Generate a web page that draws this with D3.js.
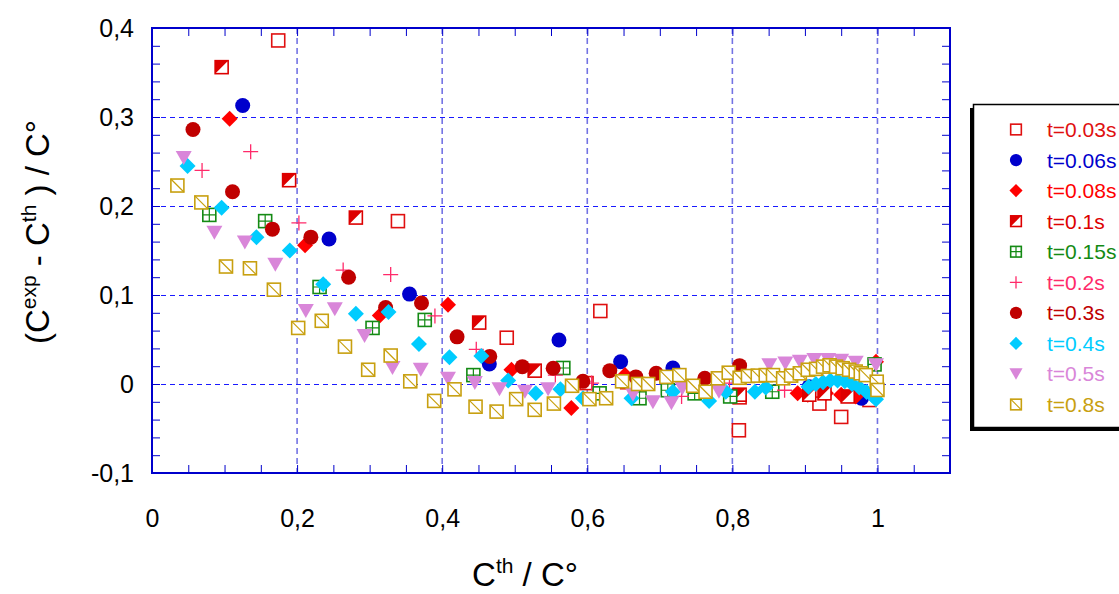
<!DOCTYPE html>
<html>
<head>
<meta charset="utf-8">
<script src="https://cdn.jsdelivr.net/npm/d3@7"></script>
<style>
  body { margin: 0; background: #fff; }
  text { font-family: "Liberation Sans", Arial, sans-serif; }
</style>
</head>
<body>
<script>
// Data: each point is [C_th / C0, (C_exp - C_th) / C0]
var t003 = [[0.174,0.386],[0.339,0.183],[0.618,0.082],[0.489,0.052],[0.599,0.001],[0.81,-0.015],
    [0.809,-0.052],[0.92,-0.022],[0.95,-0.037],[0.989,-0.018]];
var t006 = [[0.125,0.313],[0.244,0.163],[0.355,0.101],[0.465,0.0225],[0.561,0.0495],[0.646,0.025],
    [0.718,0.018],[0.906,-0.003],[0.978,-0.016]];
var t008 = [[0.107,0.298],[0.211,0.156],[0.314,0.077],[0.408,0.089],[0.4955,0.016],[0.578,-0.027],
    [0.652,0.010],[0.89,-0.0105],[0.904,-0.012],[0.929,-0.0105],[0.95,-0.012],[0.97,-0.014],[0.998,0.025]];
var t01 = [[0.096,0.356],[0.189,0.229],[0.281,0.187],[0.451,0.069],[0.5275,0.015],[0.655,0.002],
    [0.81,-0.012],[0.906,-0.012],[0.927,-0.0105],[0.959,-0.014]];
var t015 = [[0.079,0.19],[0.156,0.183],[0.231,0.109],[0.304,0.063],[0.376,0.072],[0.443,0.010],
    [0.567,0.018],[0.617,-0.0105],[0.672,-0.016],[0.711,-0.007],[0.748,-0.0105],[0.797,-0.014],
    [0.855,-0.0087],[0.996,0.022]];
var t02 = [[0.069,0.240],[0.136,0.261],[0.2025,0.181],[0.2635,0.128],[0.329,0.123],[0.39,0.0765],
    [0.447,0.039],[0.556,0.010],[0.606,0.001],[0.73,-0.014],[0.796,0.001],[0.872,-0.007]];
var t03 = [[0.0565,0.286],[0.111,0.216],[0.166,0.174],[0.219,0.165],[0.271,0.120],[0.322,0.086],
    [0.3715,0.091],[0.4205,0.053],[0.4656,0.031],[0.5105,0.0195],[0.553,0.0177],[0.594,0.003],
    [0.631,0.015],[0.667,0.008],[0.695,0.012],[0.762,0.0064],[0.81,0.0206]];
var t04 = [[0.049,0.245],[0.096,0.198],[0.144,0.165],[0.19,0.15],[0.236,0.112],[0.281,0.079],
    [0.326,0.081],[0.368,0.045],[0.41,0.030],[0.454,0.0315],[0.491,0.004],[0.529,-0.0105],
    [0.563,-0.006],[0.594,-0.016],[0.661,-0.016],[0.718,-0.0087],[0.768,-0.019],[0.791,-0.0087],
    [0.831,-0.0087],[0.846,-0.004],[0.905,-0.003],[0.915,0.0],[0.925,0.002],[0.935,0.004],
    [0.945,0.004],[0.955,0.003],[0.965,0.0],[0.975,-0.004],[0.985,-0.009],[0.993,-0.013],[0.998,-0.017]];
var t05 = [[0.0437,0.254],[0.086,0.170],[0.128,0.159],[0.170,0.134],[0.212,0.082],[0.252,0.084],
    [0.293,0.054],[0.3315,0.018],[0.3705,0.016],[0.408,0.006],[0.445,0.001],[0.479,-0.006],
    [0.514,-0.0087],[0.546,-0.006],[0.663,-0.012],[0.6905,-0.0206],[0.716,-0.0217],[0.731,-0.005],
    [0.7815,-0.0087],[0.851,0.021],[0.873,0.023],[0.893,0.025],[0.913,0.027],[0.932,0.027],
    [0.95,0.026],[0.97,0.024],[0.998,0.021]];
var t08 = [[0.035,0.223],[0.068,0.204],[0.102,0.132],[0.135,0.130],[0.168,0.106],[0.2015,0.063],
    [0.234,0.071],[0.266,0.042],[0.298,0.016],[0.329,0.032],[0.356,0.003],[0.389,-0.019],
    [0.417,-0.006],[0.446,-0.0255],[0.475,-0.031],[0.502,-0.017],[0.5275,-0.029],[0.554,-0.022],
    [0.579,-0.002],[0.603,-0.017],[0.626,-0.016],[0.648,0.003],[0.67,0.0],[0.684,0.0],[0.709,0.008],
    [0.727,0.010],[0.746,-0.002],[0.763,-0.0087],[0.78,0.0064],[0.795,0.0127],[0.81,0.007],
    [0.8215,0.009],[0.835,0.0094],[0.846,0.010],[0.856,0.010],[0.87,0.0064],[0.881,0.0094],
    [0.893,0.012],[0.904,0.016],[0.9155,0.017],[0.925,0.0195],[0.934,0.021],[0.943,0.0195],
    [0.952,0.0177],[0.961,0.016],[0.97,0.014],[0.977,0.012],[0.984,0.010],[0.999,0.0026],[1.0,-0.0067]];

var seriesData = [t003, t006, t008, t01, t015, t02, t03, t04, t05, t08];
var seriesNames = ["t=0.03s", "t=0.06s", "t=0.08s", "t=0.1s", "t=0.15s",
    "t=0.2s", "t=0.3s", "t=0.4s", "t=0.5s", "t=0.8s"];
var seriesColors = ["#e01010", "#0000cc", "#ff0000", "#dd0000", "#148a14",
    "#ff2a6a", "#c00000", "#00ccff", "#d986d9", "#c8a010"];
var seriesSymbols = ["openSquare", "circle", "diamond", "halfSquare", "gridSquare",
    "plus", "circle", "diamond", "triangle", "diagSquare"];

var xTicks = [0, 0.2, 0.4, 0.6, 0.8, 1];
var yTicks = [-0.1, 0, 0.1, 0.2, 0.3, 0.4];

var W = 1119, H = 594;
var frame = {left: 152, right: 950, top: 28, bottom: 473};
var axisColor = "#0000cc";

var svg = d3.select("body").append("svg")
    .attr("width", W)
    .attr("height", H);

var x = d3.scaleLinear().domain([0, 1.1]).range([frame.left, frame.right]);
var y = d3.scaleLinear().domain([-0.1, 0.4]).range([frame.bottom, frame.top]);

var fmt = function(d) { return String(+d.toFixed(2)).replace(".", ","); };

// Grid lines
svg.append("g")
    .selectAll("line")
    .data(yTicks.filter(function(d) { return d > -0.1 && d < 0.4; }))
    .enter().append("line")
    .attr("x1", frame.left).attr("x2", frame.right)
    .attr("y1", function(d) { return Math.round(y(d)) + 0.5; })
    .attr("y2", function(d) { return Math.round(y(d)) + 0.5; })
    .attr("stroke", "#1a1aff")
    .attr("stroke-width", 1.2)
    .attr("stroke-dasharray", "5,4");

svg.append("g")
    .selectAll("line")
    .data(xTicks.filter(function(d) { return d > 0; }))
    .enter().append("line")
    .attr("y1", frame.top).attr("y2", frame.bottom)
    .attr("x1", function(d) { return x(d); })
    .attr("x2", function(d) { return x(d); })
    .attr("stroke", axisColor)
    .attr("stroke-opacity", 0.55)
    .attr("stroke-width", 1.6)
    .attr("stroke-dasharray", "6,4");

// Minor ticks pointing inward on all four sides
var xMinor = d3.range(0, 1.1001, 0.05);
var yMinor = d3.range(-0.1, 0.4001, 0.02);

svg.append("g")
    .attr("transform", "translate(0," + frame.bottom + ")")
    .call(d3.axisBottom(x).tickValues(xMinor).tickSize(-8).tickFormat(""))
    .call(function(g) { g.select(".domain").remove(); g.selectAll("line").attr("stroke", axisColor); });

svg.append("g")
    .attr("transform", "translate(0," + frame.top + ")")
    .call(d3.axisTop(x).tickValues(xMinor).tickSize(-8).tickFormat(""))
    .call(function(g) { g.select(".domain").remove(); g.selectAll("line").attr("stroke", axisColor); });

svg.append("g")
    .attr("transform", "translate(" + frame.left + ",0)")
    .call(d3.axisLeft(y).tickValues(yMinor).tickSize(-8).tickFormat(""))
    .call(function(g) { g.select(".domain").remove(); g.selectAll("line").attr("stroke", axisColor); });

svg.append("g")
    .attr("transform", "translate(" + frame.right + ",0)")
    .call(d3.axisRight(y).tickValues(yMinor).tickSize(-8).tickFormat(""))
    .call(function(g) { g.select(".domain").remove(); g.selectAll("line").attr("stroke", axisColor); });

// Tick labels
svg.append("g")
    .attr("transform", "translate(0," + frame.bottom + ")")
    .call(d3.axisBottom(x).tickValues(xTicks).tickSize(0).tickPadding(36).tickFormat(fmt))
    .call(function(g) {
        g.select(".domain").remove();
        g.selectAll("text").attr("fill", "#000").style("font-size", "25px")
            .style("font-family", "'Liberation Sans', Arial, sans-serif");
    });

svg.append("g")
    .attr("transform", "translate(" + frame.left + ",0)")
    .call(d3.axisLeft(y).tickValues(yTicks).tickSize(0).tickPadding(18).tickFormat(fmt))
    .call(function(g) {
        g.select(".domain").remove();
        g.selectAll("text").attr("fill", "#000").style("font-size", "25px")
            .style("font-family", "'Liberation Sans', Arial, sans-serif");
    });

// Axis titles
var xTitle = svg.append("text")
    .attr("x", 525).attr("y", 586)
    .attr("text-anchor", "middle")
    .style("font-size", "33px");
xTitle.append("tspan").text("C");
xTitle.append("tspan").attr("dy", -13).style("font-size", "21px").text("th");
xTitle.append("tspan").attr("dy", 13).text(" / C°");

var yTitle = svg.append("text")
    .attr("transform", "translate(49,232) rotate(-90)")
    .attr("text-anchor", "middle")
    .style("font-size", "33px");
yTitle.append("tspan").text("(C");
yTitle.append("tspan").attr("dy", -13).style("font-size", "21px").text("exp");
yTitle.append("tspan").attr("dy", 13).text(" - C");
yTitle.append("tspan").attr("dy", -13).style("font-size", "21px").text("th");
yTitle.append("tspan").attr("dy", 13).text(" ) / C°");

// Marker drawing
function drawMarker(g, type, color, k) {
    var h = 6.5 * k, r = 7.5 * k, dr = 8 * k;
    if (type == "circle") {
        g.append("circle").attr("r", r).attr("fill", color);
    } else if (type == "diamond") {
        g.append("path")
            .attr("d", "M0," + (-dr) + "L" + dr + ",0L0," + dr + "L" + (-dr) + ",0Z")
            .attr("fill", color);
    } else if (type == "triangle") {
        var tw = 8 * k, th = 7 * k;
        g.append("path")
            .attr("d", "M" + (-tw) + "," + (-th) + "L" + tw + "," + (-th) + "L0," + th + "Z")
            .attr("fill", color);
    } else if (type == "plus") {
        g.append("path")
            .attr("d", "M" + (-r) + ",0H" + r + "M0," + (-r) + "V" + r)
            .attr("stroke", color).attr("stroke-width", 1.3).attr("fill", "none");
    } else {
        g.append("rect")
            .attr("x", -h).attr("y", -h)
            .attr("width", 2 * h).attr("height", 2 * h)
            .attr("fill", "#fff")
            .attr("stroke", color)
            .attr("stroke-width", 1.6);
        if (type == "halfSquare") {
            g.append("path")
                .attr("d", "M" + (-h) + "," + (-h) + "L" + h + "," + (-h) + "L" + (-h) + "," + h + "Z")
                .attr("fill", color);
        } else if (type == "gridSquare") {
            g.append("path")
                .attr("d", "M" + (-h) + ",0H" + h + "M0," + (-h) + "V" + h)
                .attr("stroke", color).attr("stroke-width", 1.2);
        } else if (type == "diagSquare") {
            g.append("path")
                .attr("d", "M" + (-h) + "," + (-h) + "L" + h + "," + h)
                .attr("stroke", color).attr("stroke-width", 1.2);
        }
    }
}

// Points
seriesData.forEach(function(data, i) {
    var pts = svg.append("g").attr("class", "series-" + i)
        .selectAll("g")
        .data(data)
        .enter().append("g")
        .attr("transform", function(d) { return "translate(" + x(d[0]) + "," + y(d[1]) + ")"; });
    pts.each(function() { drawMarker(d3.select(this), seriesSymbols[i], seriesColors[i], 1); });
});

// Frame
svg.append("rect")
    .attr("x", frame.left).attr("y", frame.top)
    .attr("width", frame.right - frame.left)
    .attr("height", frame.bottom - frame.top)
    .attr("fill", "none")
    .attr("stroke", axisColor)
    .attr("stroke-width", 2);

// Legend
var legend = svg.append("g");
legend.append("rect")
    .attr("x", 970).attr("y", 108)
    .attr("width", 200).attr("height", 323)
    .attr("fill", "#000");
legend.append("rect")
    .attr("x", 973.5).attr("y", 104.5)
    .attr("width", 200).attr("height", 323)
    .attr("fill", "#fff")
    .attr("stroke", "#000")
    .attr("stroke-width", 1.5);

var legendRow = d3.scaleLinear().domain([0, 9]).range([129.5, 404.5]);
seriesNames.forEach(function(name, i) {
    var row = legend.append("g")
        .attr("transform", "translate(1016," + legendRow(i) + ")");
    drawMarker(row, seriesSymbols[i], seriesColors[i], 0.82);
    row.append("text")
        .attr("x", 31).attr("y", 7.5)
        .attr("fill", seriesColors[i])
        .style("font-size", "21px")
        .text(name);
});
</script>
</body>
</html>
